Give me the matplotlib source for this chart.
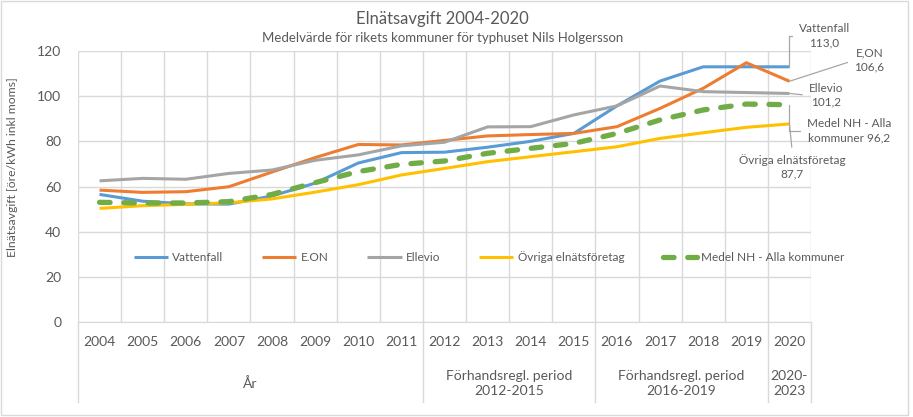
import matplotlib.pyplot as plt
from matplotlib.patches import Rectangle

plt.rcParams['font.family'] = ['Lato', 'DejaVu Sans']

years = [str(y) for y in range(2004, 2021)]

vattenfall = [56.5, 53.5, 52.3, 52.2, 55.8, 61.5, 70.4, 75.0, 75.2, 77.4, 80.0, 83.5, 95.7, 106.7, 113.0, 113.0, 113.0]
eon = [58.4, 57.4, 57.7, 59.9, 66.4, 72.8, 78.6, 78.4, 80.4, 82.4, 83.0, 83.5, 86.5, 94.6, 103.5, 114.8, 106.6]
ellevio = [62.5, 63.6, 63.2, 65.8, 67.3, 71.6, 74.0, 78.0, 79.6, 86.4, 86.5, 91.7, 95.7, 104.5, 102.0, 101.6, 101.2]
ovriga = [50.3, 51.5, 52.1, 52.8, 54.5, 57.5, 60.8, 65.1, 68.0, 71.0, 73.2, 75.4, 77.6, 81.3, 83.8, 86.2, 87.7]
medel = [53.0, 52.7, 52.7, 53.3, 56.5, 61.7, 66.6, 69.8, 71.3, 74.7, 76.9, 79.1, 83.5, 89.5, 93.9, 96.5, 96.2]

series_names = ["Vattenfall", "E.ON", "Ellevio", "Övriga elnätsföretag", "Medel NH - Alla kommuner"]
end_label_names = ["Vattenfall", "E.ON", "Ellevio", "Övriga elnätsföretag", "Medel NH - Alla\nkommuner"]

groups = ["År", "Förhandsregl. period\n2012-2015", "Förhandsregl. period\n2016-2019", "2020-\n2023"]
group_start = [0, 8, 12, 16]
group_end = [7, 11, 15, 16]

colors = {
    "Vattenfall": "#5B9BD5",
    "E.ON": "#ED7D31",
    "Ellevio": "#A5A5A5",
    "Övriga elnätsföretag": "#FFC000",
    "Medel NH - Alla kommuner": "#70AD47",
}
txt = "#595959"
grid = "#D9D9D9"

fig = plt.figure(figsize=(9.13, 4.17), dpi=100)
ax = fig.add_axes([0.0854, 0.2278, 0.8029, 0.6499])

x = list(range(len(years)))
data = [vattenfall, eon, ellevio, ovriga, medel]
for name, vals in zip(series_names, data):
    if name.startswith("Medel"):
        ax.plot(x, vals, color=colors[name], lw=3.8, dashes=(2.0, 2.6),
                dash_capstyle='round', label=name, zorder=3)
    else:
        ax.plot(x, vals, color=colors[name], lw=2.2, label=name,
                solid_capstyle='butt', zorder=3)

ax.set_xlim(-0.5, len(years) - 0.5)
ax.set_ylim(0, 120)
ax.set_yticks(range(0, 121, 20))
ax.set_xticks(x)
ax.set_xticklabels(years)
ax.set_xticks([i + 0.5 for i in range(-1, len(years))], minor=True)
ax.tick_params(axis='both', which='both', length=0, labelsize=10, colors=txt)
ax.tick_params(axis='x', pad=10)
ax.tick_params(axis='y', pad=12)
ax.grid(axis='y', color=grid, lw=1)
ax.grid(axis='x', which='minor', color=grid, lw=1)
for s in ["top", "right", "left"]:
    ax.spines[s].set_visible(False)
ax.spines["bottom"].set_color(grid)
ax.set_axisbelow(True)

ax.set_ylabel("Elnätsavgift [öre/kWh inkl moms]", fontsize=8.8, color=txt)
ax.yaxis.set_label_coords(-0.082, 0.572)

# multi-level category axis
tr = ax.get_xaxis_transform()
for lab, a, b in zip(groups, group_start, group_end):
    ax.text((a + b) / 2, -0.228, lab, transform=tr, ha='center', va='center',
            fontsize=10, color=txt, linespacing=1.3)
for b in [group_start[0] - 0.5] + [e + 0.5 for e in group_end]:
    ax.plot([b, b], [0, -0.295], transform=tr, color=grid, lw=1, clip_on=False)

# end labels with leader lines
last = len(years) - 1
label_setup = {
    "Vattenfall": ((35, 31), "angle,angleA=0,angleB=90", (0, 0.5)),
    "E.ON": ((80, 21), "arc3", (0, 0.5)),
    "Ellevio": ((37, -2), "arc3", (0, 0.5)),
    "Medel NH - Alla kommuner": ((60, -26), "angle,angleA=0,angleB=90", (0, 0.5)),
    "Övriga elnätsföretag": ((3, -43), "arc3", (0.5, 1)),
}
for name, lname, vals in zip(series_names, end_label_names, data):
    off, cs, rp = label_setup[name]
    s = f"{lname}\n{vals[last]:.1f}".replace('.', ',')
    if name.startswith("Medel"):
        s = f"{lname} {vals[last]:.1f}".replace('.', ',')
    ax.annotate(s, xy=(last, vals[last]), xytext=off, textcoords='offset pixels',
                ha='center', va='center', fontsize=8.5, color=txt, linespacing=1.3,
                annotation_clip=False,
                arrowprops=dict(arrowstyle='-', color="#A6A6A6", lw=0.9,
                                connectionstyle=cs, relpos=rp, shrinkA=3, shrinkB=0))

ax.legend(loc='center', bbox_to_anchor=(0.561, 0.241), ncol=5, frameon=False,
          fontsize=8.5, labelcolor=txt, handlelength=2.9, handletextpad=0.35,
          columnspacing=3.3)

fig.text(0.484, 0.955, "Elnätsavgift 2004-2020", ha='center', va='center',
         fontsize=12, color=txt)
fig.text(0.485, 0.908, "Medelvärde för rikets kommuner för typhuset Nils Holgersson",
         ha='center', va='center', fontsize=9.5, color=txt)

fig.patches.append(Rectangle((0.001, 0.004), 0.993, 0.993, transform=fig.transFigure,
                             fill=False, edgecolor=grid, lw=1))

fig.savefig("out.png", dpi=100)
